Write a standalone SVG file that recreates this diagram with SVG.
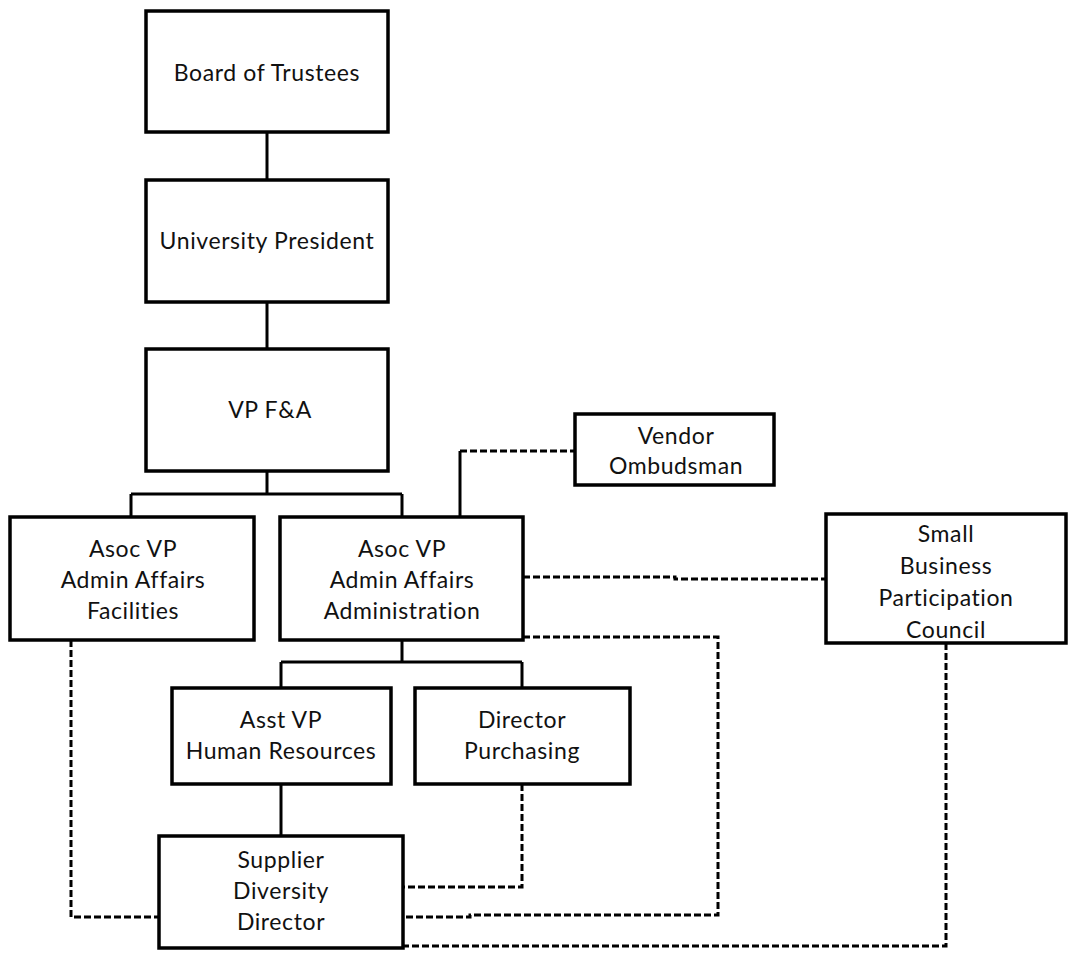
<svg xmlns="http://www.w3.org/2000/svg" width="1070" height="954" viewBox="0 0 1070 954">
<style>
.box{fill:#fff;stroke:#000;stroke-width:3.5}
.s{fill:none;stroke:#000;stroke-width:3}
.d{fill:none;stroke:#000;stroke-width:3;stroke-dasharray:7 3}
text{font-family:"Lato","Open Sans","Liberation Sans",sans-serif;font-size:23px;letter-spacing:0.6px;fill:#111;text-anchor:middle}
</style>
<rect width="1070" height="954" fill="#fff"/>
<g id="connectors">
<path class="s" d="M267 132V180M267 302V349M267 471V494M131 494H402M131 494V517M402 494V517"/>
<path class="s" d="M460 517V451"/>
<path class="d" d="M460 451H575"/>
<path class="d" d="M523 577H675V579H826"/>
<path class="s" d="M402 640V662M281 662H522M281 662V688M522 662V688"/>
<path class="s" d="M281 784V836"/>
<path class="d" d="M523 637H718V915H470V917H403"/>
<path class="d" d="M522 784V887H403"/>
<path class="d" d="M71 640V917H159"/>
<path class="d" d="M946 643V946H403"/>
</g>
<g id="board"><rect class="box" x="146" y="11" width="242" height="121"/><text x="267" y="81">Board of Trustees</text></g>
<g id="president"><rect class="box" x="146" y="180" width="242" height="122"/><text x="267" y="249">University President</text></g>
<g id="vpfa"><rect class="box" x="146" y="349" width="242" height="122"/><text x="270" y="418">VP F&amp;A</text></g>
<g id="facilities"><rect class="box" x="10" y="517" width="244" height="123"/><text x="133" y="557">Asoc VP</text><text x="133" y="588">Admin Affairs</text><text x="133" y="619">Facilities</text></g>
<g id="administration"><rect class="box" x="280" y="517" width="243" height="123"/><text x="402" y="557">Asoc VP</text><text x="402" y="588">Admin Affairs</text><text x="402" y="619">Administration</text></g>
<g id="ombudsman"><rect class="box" x="575" y="414" width="199" height="71"/><text x="676" y="444">Vendor</text><text x="676" y="474">Ombudsman</text></g>
<g id="council"><rect class="box" x="826" y="514" width="240" height="129"/><text x="946" y="542">Small</text><text x="946" y="574">Business</text><text x="946" y="606">Participation</text><text x="946" y="638">Council</text></g>
<g id="hr"><rect class="box" x="172" y="688" width="219" height="96"/><text x="281" y="728">Asst VP</text><text x="281" y="759">Human Resources</text></g>
<g id="purchasing"><rect class="box" x="415" y="688" width="215" height="96"/><text x="522" y="728">Director</text><text x="522" y="759">Purchasing</text></g>
<g id="supplier"><rect class="box" x="159" y="836" width="244" height="112"/><text x="281" y="868">Supplier</text><text x="281" y="899">Diversity</text><text x="281" y="930">Director</text></g>
</svg>
